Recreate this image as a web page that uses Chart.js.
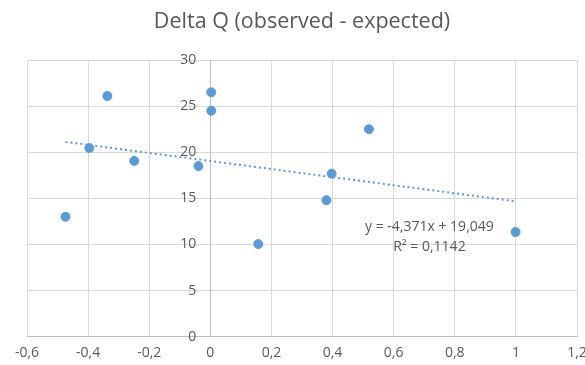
<!DOCTYPE html>
<html>
<head>
<meta charset="utf-8">
<script src="https://cdn.jsdelivr.net/npm/chart.js@4"></script>
<style>
  html,body{margin:0;padding:0;background:#fff;}
  #wrap{width:585px;height:365px;}
</style>
</head>
<body>
<div id="wrap"><canvas id="c" width="585" height="365"></canvas></div>
<script>
/* ── DATA ── */
const titleText = 'Delta Q (observed - expected)';
const xVals = [-0.474, -0.396, -0.337, -0.249, -0.039, 0.003, 0.003, 0.157, 0.380, 0.397, 0.519, 0.999];
const yVals = [13.0, 20.45, 26.1, 19.06, 18.5, 26.5, 24.5, 10.04, 14.8, 17.68, 22.5, 11.35];
const trendX = [-0.474, 0.999];
const trendY = [21.12, 14.68];
const eqLines = ['y = -4,371x + 19,049', 'R² = 0,1142'];
const eqAnchor = { x: 0.717, y: [11.9, 9.75] };

const grey = '#595959';
const blue = '#5B9BD5';
const fontFam = '"Open Sans", sans-serif';

const fmtX = v => { const r = Math.round(v*10)/10; return (r===0?'0':String(r)).replace('.', ','); };

// y axis sits on x=0 (Excel style); labels drawn just left of it
const yLabelPlugin = {
  id: 'yLabels',
  afterDraw(chart) {
    const {ctx, scales:{x, y}} = chart;
    ctx.save();
    ctx.fillStyle = grey;
    ctx.font = '14px ' + fontFam;
    ctx.textAlign = 'right';
    ctx.textBaseline = 'middle';
    const px = x.getPixelForValue(0) - 14;
    y.ticks.forEach(t => ctx.fillText(String(t.value), px, y.getPixelForValue(t.value)));
    ctx.restore();
  }
};

const eqPlugin = {
  id: 'eqLabel',
  afterDatasetsDraw(chart) {
    const {ctx, scales:{x, y}} = chart;
    ctx.save();
    ctx.fillStyle = grey;
    ctx.font = '14px ' + fontFam;
    ctx.textAlign = 'center';
    ctx.textBaseline = 'middle';
    eqLines.forEach((t,i)=> ctx.fillText(t, x.getPixelForValue(eqAnchor.x), y.getPixelForValue(eqAnchor.y[i])));
    ctx.restore();
  }
};

new Chart(document.getElementById('c').getContext('2d'), {
  type: 'scatter',
  data: {
    datasets: [
      { label: 'pts', data: xVals.map((v,i)=>({x:v, y:yVals[i]})),
        backgroundColor: blue, borderColor: blue, pointRadius: 4.5, pointHoverRadius: 4.5, order: 0 },
      { label: 'trend', type: 'line', data: trendX.map((v,i)=>({x:v, y:trendY[i]})),
        borderColor: blue, borderWidth: 2, borderDash: [2,3], pointRadius: 0, fill: false, order: 1 }
    ]
  },
  options: {
    responsive: false, animation: false,
    layout: { padding: { left: 27, right: 8, top: 0, bottom: 0 } },
    plugins: {
      legend: { display: false },
      tooltip: { enabled: false },
      title: { display: true, text: titleText, color: grey,
               font: { family: fontFam, size: 21.5, weight: 'normal' },
               padding: { top: 9, bottom: 25.2 } }
    },
    scales: {
      x: { type: 'linear', position: 'bottom', min: -0.6, max: 1.2,
           ticks: { stepSize: 0.2, color: grey, font: { family: fontFam, size: 14 }, padding: 8, callback: fmtX },
           grid: { color: '#D9D9D9', drawTicks: false },
           border: { color: '#BFBFBF' },
           afterFit: s => { s.height = 28.3; s.paddingLeft = 0; s.paddingRight = 0; } },
      y: { type: 'linear', position: { x: 0 }, min: 0, max: 30,
           ticks: { stepSize: 5, display: false },
           grid: { color: '#D9D9D9', drawTicks: false },
           border: { color: '#BFBFBF' } }
    }
  },
  plugins: [eqPlugin, yLabelPlugin]
});
</script>
</body>
</html>
